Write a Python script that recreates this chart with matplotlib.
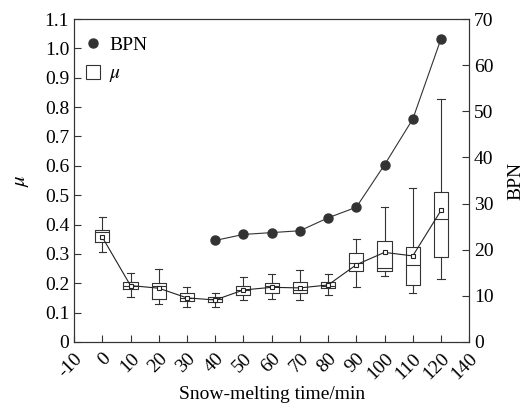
import matplotlib
matplotlib.use("Agg")
import matplotlib.pyplot as plt
from matplotlib.lines import Line2D

plt.rcParams['font.family'] = ['Liberation Serif', 'DejaVu Serif']
plt.rcParams['mathtext.fontset'] = 'stix'

# Data
times = [0, 10, 20, 30, 40, 50, 60, 70, 80, 90, 100, 110, 120]
mu_mean = [0.357, 0.192, 0.183, 0.150, 0.143, 0.177, 0.186, 0.184, 0.194, 0.263, 0.305, 0.293, 0.448]
mu_med = [0.376, 0.192, 0.190, 0.150, 0.145, 0.178, 0.190, 0.176, 0.190, 0.268, 0.253, 0.263, 0.420]
mu_q1 = [0.339, 0.180, 0.145, 0.139, 0.136, 0.160, 0.168, 0.166, 0.185, 0.241, 0.242, 0.194, 0.288]
mu_q3 = [0.381, 0.204, 0.202, 0.165, 0.153, 0.192, 0.201, 0.203, 0.203, 0.302, 0.343, 0.324, 0.512]
mu_lo = [0.307, 0.152, 0.128, 0.118, 0.118, 0.143, 0.145, 0.143, 0.160, 0.188, 0.225, 0.168, 0.216]
mu_hi = [0.427, 0.236, 0.248, 0.188, 0.167, 0.220, 0.232, 0.244, 0.233, 0.352, 0.459, 0.523, 0.826]

bpn_t = [40, 50, 60, 70, 80, 90, 100, 110, 120]
bpn = [22.0, 23.3, 23.7, 24.1, 26.9, 29.2, 38.4, 48.3, 65.7]

xticks = [-10, 0, 10, 20, 30, 40, 50, 60, 70, 80, 90, 100, 110, 120, 130]
xticklabels = ['-10', '0', '10', '20', '30', '40', '50', '60', '70', '80', '90', '100', '110', '120', '140']

ec = '#333333'
fig = plt.figure(figsize=(5.29, 4.09), dpi=100)
ax = fig.add_axes([0.140, 0.164, 0.747, 0.7895])

stats = []
for i in range(len(times)):
    stats.append(dict(med=mu_med[i], q1=mu_q1[i], q3=mu_q3[i], whislo=mu_lo[i],
                      whishi=mu_hi[i], mean=mu_mean[i], fliers=[]))
ax.bxp(stats, positions=times, widths=5, showmeans=False, showfliers=False,
       boxprops=dict(color=ec, linewidth=0.8),
       whiskerprops=dict(color=ec, linewidth=0.8),
       capprops=dict(color=ec, linewidth=0.8),
       medianprops=dict(color=ec, linewidth=0.8), capwidths=2.5, manage_ticks=False)
ax.plot(times, mu_mean, color='#222222', lw=0.8, marker='s', ms=3.2,
        mfc='white', mec='#222222', mew=0.8, zorder=5)

ax.set_xlim(-10, 130)
ax.set_ylim(0, 1.1)
ax.set_xticks(xticks)
ax.set_xticklabels(xticklabels, rotation=45, ha='right', va='top', rotation_mode='anchor')
ax.set_yticks([i / 10 for i in range(12)])
ax.set_yticklabels(['0', '0.1', '0.2', '0.3', '0.4', '0.5', '0.6', '0.7', '0.8', '0.9', '1.0', '1.1'])
ax.tick_params(direction='in', length=5, width=0.8, color=ec, labelsize=14)
ax.tick_params(axis='x', pad=6)
ax.set_xlabel('Snow-melting time/min', fontsize=14, labelpad=2)
ax.set_ylabel(r'$\mu$', fontsize=15, labelpad=10)
for s in ax.spines.values():
    s.set_color(ec)
    s.set_linewidth(0.8)

ax2 = ax.twinx()
ax2.plot(bpn_t, bpn, color='#333333', lw=0.8, marker='o', ms=6.5,
         mfc='#333333', mec='#333333')
ax2.set_ylim(0, 70)
ax2.set_yticks(range(0, 71, 10))
ax2.tick_params(direction='in', length=5, width=0.8, color=ec, labelsize=14)
ax2.set_ylabel('BPN', fontsize=14, labelpad=10)
for s in ax2.spines.values():
    s.set_color(ec)
    s.set_linewidth(0.8)

handles = [Line2D([], [], ls='none', marker='o', ms=6.5, color='#333333'),
           Line2D([], [], ls='none', marker='s', ms=10, mfc='white', mec='#333333', mew=0.8)]
ax.legend(handles, ['BPN', r'$\mu$'], loc='upper left', frameon=False, fontsize=14,
          handletextpad=0.2, bbox_to_anchor=(-0.025, 1.0), labelspacing=0.55, handlelength=1.2)

fig.savefig('out.png', dpi=100)
